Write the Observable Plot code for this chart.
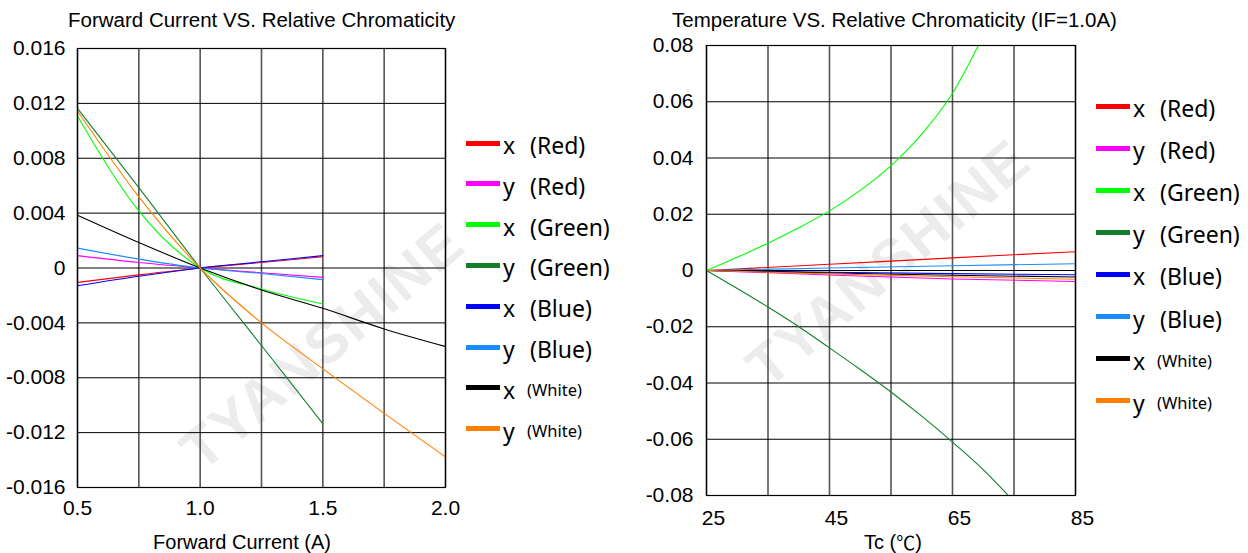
<!DOCTYPE html>
<html><head><meta charset="utf-8">
<script src="https://cdn.jsdelivr.net/npm/d3@7"></script>
<script src="https://cdn.jsdelivr.net/npm/@observablehq/plot@0.6"></script>
<style>
body{margin:0;background:#fff;width:1248px;height:553px;overflow:hidden;position:relative;font-family:"Liberation Sans",Arial,sans-serif;color:#000}
.abs{position:absolute;white-space:nowrap}
.title{font-size:20.5px}
.axlabel{font-size:20px;text-align:center;line-height:20px;height:20px}
.cjk{font-family:"Noto Sans CJK SC",sans-serif;font-size:19px;line-height:20px;vertical-align:top}
.leg{position:absolute;display:flex;align-items:center;font-family:"Noto Sans",sans-serif;font-size:23px;line-height:1}
.sw{width:34px;height:5px;margin-right:3px;margin-top:-5px}
.lt{display:inline-block;width:27px}
.small{font-size:16.5px}
.wm{position:absolute;white-space:nowrap;font-family:"Liberation Sans",Arial,sans-serif;font-weight:bold;color:#ececec;font-size:58px;letter-spacing:2px;transform-origin:center center}
</style></head><body>
<script>
// ---------- Left chart: Forward Current vs Relative Chromaticity ----------
const currentX = [0.5, 0.75, 1.0, 1.25, 1.5];
const currentXLong = [0.5, 0.75, 1.0, 1.25, 1.5, 1.75, 2.0];
const fc_xRed   = [-0.00105, -0.0005, 0, 0.0004, 0.00082];
const fc_yRed   = [0.0009, 0.0004, 0, -0.00035, -0.00068];
const fc_xGreen = [0.01108, 0.00417, 0, -0.00153, -0.00262];
const fc_yGreen = [0.01164, 0.00586, 0, -0.00565, -0.01135];
const fc_xBlue  = [-0.00129, -0.0006, 0, 0.00045, 0.0009];
const fc_yBlue  = [0.00145, 0.00065, 0, -0.0004, -0.00085];
const fc_xWhite = [0.00385, 0.00186, 0, -0.0016, -0.00294, -0.00444, -0.00572];
const fc_yWhite = [0.01144, 0.00519, 0, -0.0040, -0.00735, -0.0106, -0.01378];

// ---------- Right chart: Temperature vs Relative Chromaticity ----------
const tempX4 = [25, 45, 65, 85];
const tempXG = [25, 30, 35, 40, 45, 50, 55, 60, 65, 70];
const tempXGy = [25, 30, 35, 40, 45, 50, 55, 60, 65, 70, 75];
const tc_xRed   = [0, 0.0022, 0.0045, 0.0067];
const tc_yRed   = [0, -0.0016, -0.0030, -0.0039];
const tc_xGreen = [0, 0.0047, 0.0097, 0.0152, 0.0212, 0.0285, 0.0373, 0.0485, 0.063, 0.0835];
const tc_yGreen = [0, -0.0064, -0.0130, -0.0200, -0.0275, -0.0352, -0.0432, -0.0518, -0.0610, -0.0708, -0.0822];
const tc_xBlue  = [0, -0.0006, -0.0011, -0.0015];
const tc_yBlue  = [0, 0.0009, 0.0017, 0.0024];
const tc_xWhite = [0, -0.0009, -0.0017, -0.0023];
const tc_yWhite = [0, -0.0012, -0.0022, -0.0031];

// ---------- Legend / styling ----------
const seriesLetters = ["x", "y", "x", "y", "x", "y", "x", "y"];
const seriesNames = ["(Red)", "(Red)", "(Green)", "(Green)", "(Blue)", "(Blue)", "(White)", "(White)"];
const seriesColors = ["#ff0000", "#ff00ff", "#00ff00", "#137f2c", "#0000ff", "#1a8cff", "#000000", "#ff8000"];

const fcX = [currentX, currentX, currentX, currentX, currentX, currentX, currentXLong, currentXLong];
const fcY = [fc_xRed, fc_yRed, fc_xGreen, fc_yGreen, fc_xBlue, fc_yBlue, fc_xWhite, fc_yWhite];
const tcX = [tempX4, tempX4, tempXG, tempXGy, tempX4, tempX4, tempX4, tempX4];
const tcY = [tc_xRed, tc_yRed, tc_xGreen, tc_yGreen, tc_xBlue, tc_yBlue, tc_xWhite, tc_yWhite];

const fcGridX = [0.5, 0.75, 1.0, 1.25, 1.5, 1.75, 2.0];
const fcTickX = [0.5, 1.0, 1.5, 2.0];
const fcTickY = [-0.016, -0.012, -0.008, -0.004, 0, 0.004, 0.008, 0.012, 0.016];
const tcGridX = [25, 35, 45, 55, 65, 75, 85];
const tcTickX = [25, 45, 65, 85];
const tcTickY = [-0.08, -0.06, -0.04, -0.02, 0, 0.02, 0.04, 0.06, 0.08];

function toRows(xs, ys) { return xs.map((x, i) => ({x, y: ys[i]})); }

function makeChart(opts) {
  const {xs, ys, xDomain, yDomain, gridX, tickX, tickY, yFmt, xFmt, ml, mr, mt, mb, xdx, xpad, ypad} = opts;
  const lines = seriesColors.map((c, i) => Plot.line(toRows(xs[i], ys[i]), {
    x: "x", y: "y", stroke: c, strokeWidth: 1.1, curve: "monotone-x", clip: true
  }));
  return Plot.plot({
    width: 460, height: 523,
    marginLeft: ml, marginRight: mr, marginTop: mt, marginBottom: mb,
    x: {domain: xDomain},
    y: {domain: yDomain},
    style: {fontFamily: "'Liberation Sans', Arial, sans-serif", fontSize: "21px", color: "#000", background: "transparent", overflow: "visible"},
    marks: [
      Plot.gridX(gridX, {stroke: "#555", strokeOpacity: 1, strokeWidth: 1.6}),
      Plot.gridY(tickY, {stroke: "#000", strokeOpacity: 1, strokeWidth: 1}),
      ...lines,
      Plot.frame({stroke: "#000", strokeWidth: 1.2}),
      Plot.axisX(tickX, {tickSize: 0, tickPadding: xpad, tickFormat: xFmt, label: null, dx: xdx, fill: "#000", fontSize: 21}),
      Plot.axisY(tickY, {tickSize: 0, tickPadding: ypad, tickFormat: yFmt, label: null, fill: "#000", fontSize: 21})
    ]
  });
}

function place(el, left, top) {
  el.style.position = "absolute"; el.style.left = left + "px"; el.style.top = top + "px";
  document.body.appendChild(el);
}
function addDiv(cls, html, left, top, extra) {
  const d = document.createElement("div");
  d.className = "abs " + cls; d.innerHTML = html;
  d.style.left = left + "px"; d.style.top = top + "px";
  if (extra) Object.assign(d.style, extra);
  document.body.appendChild(d);
  return d;
}
function watermark(text, cx, cy, angle) {
  const d = document.createElement("div");
  d.className = "wm"; d.textContent = text;
  document.body.appendChild(d);
  const w = d.offsetWidth, h = d.offsetHeight;
  d.style.left = (cx - w / 2) + "px"; d.style.top = (cy - h / 2) + "px";
  d.style.transform = `rotate(${angle}deg)`;
}
function legend(left, top, step) {
  seriesColors.forEach((c, i) => {
    const row = document.createElement("div");
    row.className = "leg";
    row.style.left = left + "px";
    row.style.top = (top + i * step) + "px";
    const sw = document.createElement("div"); sw.className = "sw"; sw.style.background = c;
    const l = document.createElement("span"); l.className = "lt"; l.textContent = seriesLetters[i];
    const n = document.createElement("span"); n.textContent = seriesNames[i];
    if (seriesNames[i] === "(White)") { n.className = "small"; l.style.width = "24px"; }
    row.append(sw, l, n);
    document.body.appendChild(row);
  });
}

watermark("TYANSHINE", 322, 345, -40);
watermark("TYANSHINE", 888, 262, -40);

const left = makeChart({
  xs: fcX, ys: fcY, xDomain: [0.5, 2.0], yDomain: [-0.016, 0.016],
  gridX: fcGridX, tickX: fcTickX, tickY: fcTickY,
  yFmt: d => d === 0 ? "0" : d.toFixed(3), xFmt: d => d.toFixed(1),
  ml: 77, mr: 15, mt: 18, mb: 66, xdx: 0, xpad: 13, ypad: 12
});
place(left, 0, 30);

const right = makeChart({
  xs: tcX, ys: tcY, xDomain: [25, 85], yDomain: [-0.08, 0.08],
  gridX: tcGridX, tickX: tcTickX, tickY: tcTickY,
  yFmt: d => d === 0 ? "0" : d.toFixed(2), xFmt: d => String(d),
  ml: 76, mr: 15, mt: 15, mb: 58, xdx: 7, xpad: 15, ypad: 13
});
place(right, 630, 30);

addDiv("title", "Forward Current VS. Relative Chromaticity", 68, 8);
addDiv("title", "Temperature VS. Relative Chromaticity (IF=1.0A)", 672, 8);
addDiv("axlabel", "Forward Current (A)", 142, 532, {width: "200px"});
addDiv("axlabel", 'Tc (<span class="cjk">℃</span>)', 843, 532, {width: "100px"});

legend(466, 134, 40.8);
legend(1096, 97, 42.1);
</script>
</body></html>
